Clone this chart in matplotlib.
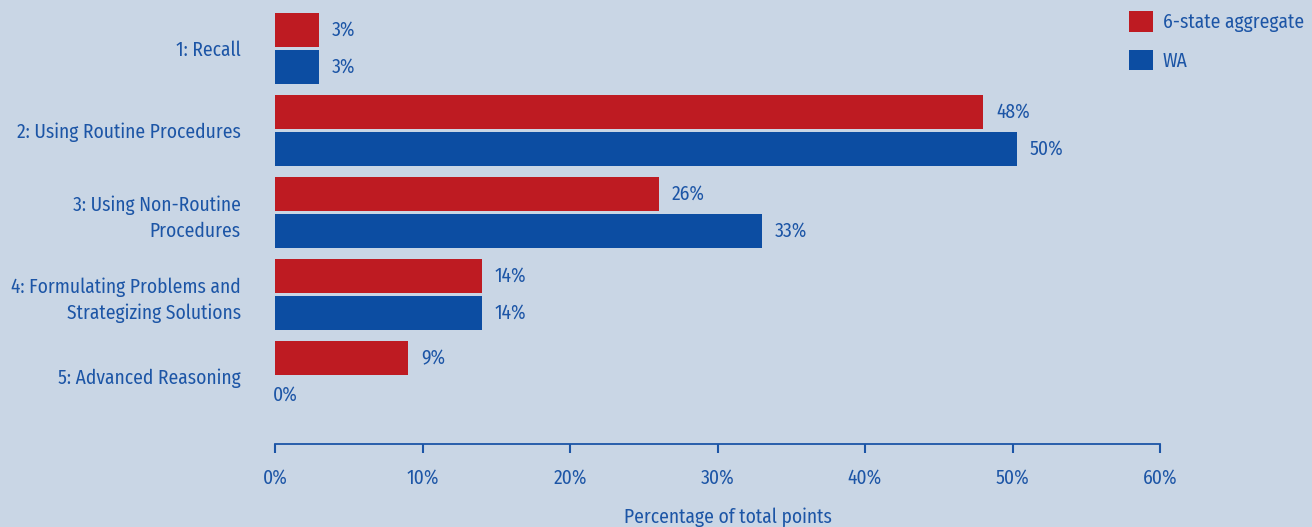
import matplotlib
matplotlib.use("Agg")
import matplotlib.pyplot as plt
import numpy as np
from matplotlib import font_manager

categories = ["1: Recall", "2: Using Routine Procedures", "3: Using Non-Routine\nProcedures",
              "4: Formulating Problems and\nStrategizing Solutions", "5: Advanced Reasoning"]
aggregate = [3, 48, 26, 14, 9]
wa = [3, 50.3, 33, 14, 0]
agg_labels = ["3%", "48%", "26%", "14%", "9%"]
wa_labels = ["3%", "50%", "33%", "14%", "0%"]
series_names = ["6-state aggregate", "WA"]
xticks = [0, 10, 20, 30, 40, 50, 60]
xtick_labels = ["0%", "10%", "20%", "30%", "40%", "50%", "60%"]
xlabel = "Percentage of total points"

names = {f.name for f in font_manager.fontManager.ttflist}
fam, FS = "Liberation Sans", 12.5
for cand in ["Fira Sans Condensed", "PT Sans Narrow", "Open Sans Condensed", "Roboto Condensed"]:
    if cand in names:
        fam, FS = cand, 14
        break
plt.rcParams['font.family'] = [fam, 'DejaVu Sans']

BG = "#C9D6E5"
RED = "#BE1B22"
BLUE = "#0C4DA2"
TXT = "#1C55A6"

fig = plt.figure(figsize=(13.12, 5.27), dpi=100, facecolor=BG)
ax = fig.add_axes([275/1312, 1-444/527, (1160-275)/1312, 444/527])
ax.set_facecolor(BG)

y = np.arange(len(categories))
h = 0.415
off = 0.225
ax.barh(y - off, aggregate, height=h, color=RED, label=series_names[0])
ax.barh(y + off, wa, height=h, color=BLUE, label=series_names[1])

for yi, v, t in zip(y - off, aggregate, agg_labels):
    ax.annotate(t, (v, yi), xytext=(13, 0), textcoords="offset pixels",
                va="center", ha="left", color=TXT, fontsize=FS)
for yi, v, t in zip(y + off, wa, wa_labels):
    ax.annotate(t, (v, yi), xytext=(13 if v > 0 else -2, 0), textcoords="offset pixels",
                va="center", ha="left", color=TXT, fontsize=FS)

ax.set_ylim(4.82, -0.59)
ax.set_xlim(0, 60)
ax.set_yticks(y)
ax.set_yticklabels(categories, fontsize=FS, color=TXT, ha="right", linespacing=1.45)
ax.tick_params(axis="y", length=0, pad=24.5)
ax.set_xticks(xticks)
ax.set_xticklabels(xtick_labels, fontsize=FS, color=TXT)
ax.tick_params(axis="x", direction="out", length=6.5, width=1.5, color=TXT, pad=11)
for s in ["top", "right", "left"]:
    ax.spines[s].set_visible(False)
ax.spines["bottom"].set_color(TXT)
ax.spines["bottom"].set_linewidth(1.3)
ax.set_xlabel(xlabel, fontsize=FS, color=TXT)
ax.xaxis.set_label_coords(0.512, -0.142)

fig.legend(loc="upper left", bbox_to_anchor=(1111/1312, 1 + 6/527), frameon=False,
           fontsize=FS, labelcolor=TXT, handlelength=1.25, handleheight=1.25,
           handletextpad=0.5, labelspacing=0.9)

fig.savefig("out.png", dpi=100, facecolor=BG)
